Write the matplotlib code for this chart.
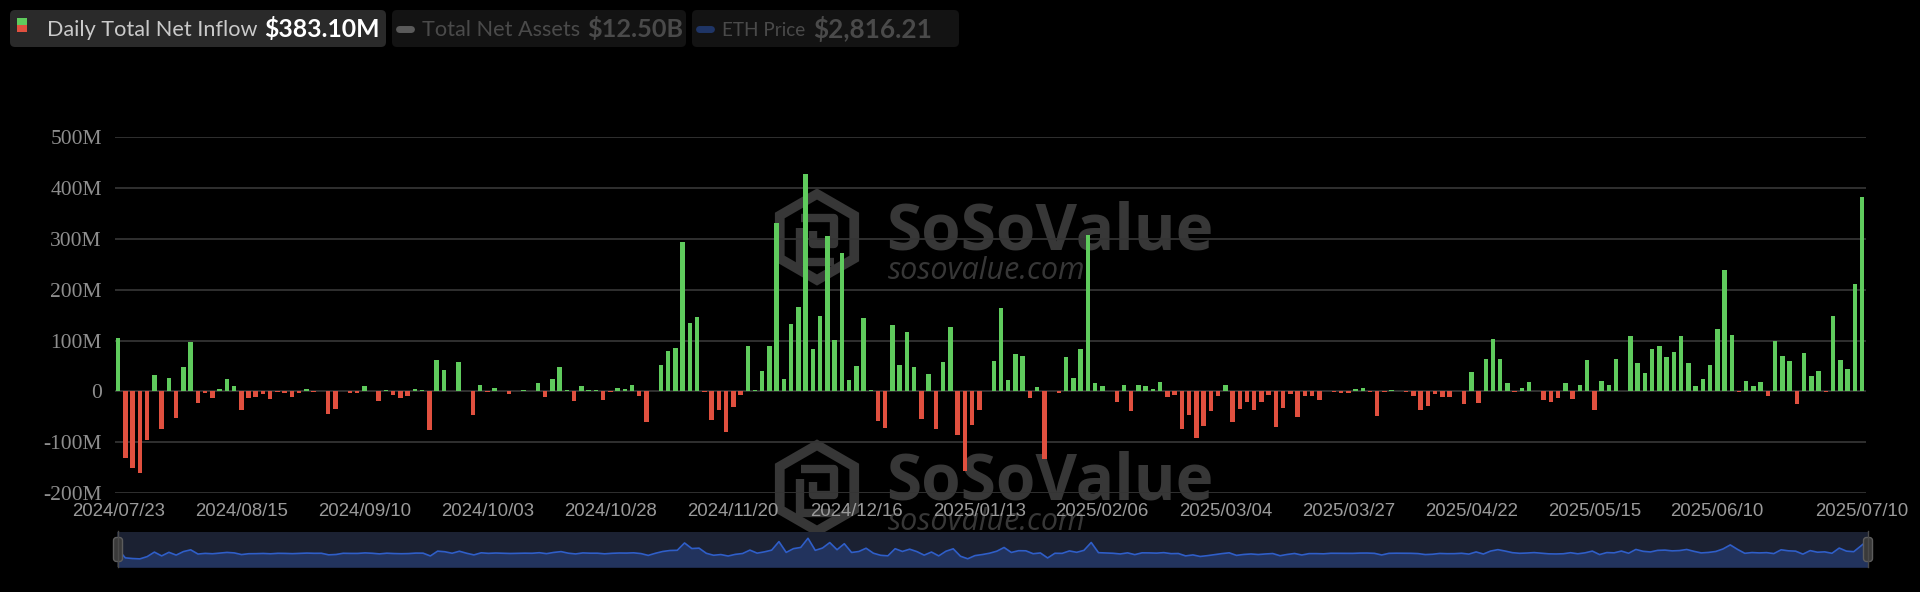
import numpy as np
import pandas as pd
import matplotlib
matplotlib.use("Agg")
import matplotlib.pyplot as plt
from matplotlib.patches import FancyBboxPatch, RegularPolygon, Rectangle
from matplotlib.lines import Line2D

# ---------------- data ----------------
inflow = [
    106, -131, -150, -160, -96, 33, -75, 27, -52, 48,
    98, -22, -3, -14, 5, 24, 10, -37, -13, -11,
    -5, -15, -1, -4, -11, -3, 5, -1, 0, -45,
    -35, 0, -4, -4, 10, 0, -18, 2, -8, -13,
    -9, 5, 3, -77, 61, 43, 0, 58, 0, -47,
    13, -2, 7, 0, -6, 0, 3, 0, 16, -11,
    24, 47, 2, -19, 10, 2, 2, -16, -1, 7,
    5, 12, -9, -61, 0, 51, 79, 85, 294, 135,
    146, -1, -57, -37, -79, -31, -7, 90, 3, 40,
    89, 332, 24, 132, 166, 427, 83, 149, 305, 101,
    272, 23, 50, 144, 2, -58, -73, 130, 52, 116,
    47, -54, 35, -75, 58, 127, -85, -157, -66, -37,
    1, 59, 165, 23, 73, 70, -13, 9, -134, 0,
    -3, 67, 27, 83, 307, 17, 10, 0, -20, 12,
    -39, 12, 10, 4, 18, -11, -7, -75, -47, -91,
    -68, -39, -10, 13, -60, -34, -20, -36, -20, -8,
    -70, -33, -6, -50, -10, -10, -16, 0, -2, -4,
    -3, 5, 6, -2, -49, -2, 2, 0, -1, -9,
    -37, -28, -5, -12, -11, 0, -24, 38, -22, 63,
    103, 63, 17, -1, 7, 19, 0, -16, -20, -14,
    16, -15, 12, 62, -37, 20, 12, 63, 0, 109,
    56, 37, 83, 90, 68, 77, 108, 55, 10, 24,
    51, 123, 238, 110, -1, 20, 10, 18, -9, 99,
    70, 60, -25, 76, 30, 40, -1, 148, 61, 45,
    211, 383.10,
]
market_holidays = ["2024-09-02", "2024-11-28", "2024-12-25", "2025-01-01", "2025-01-09",
                   "2025-01-20", "2025-02-17", "2025-04-18", "2025-05-26", "2025-06-19",
                   "2025-07-04"]
tick_labels = ["2024/07/23", "2024/08/15", "2024/09/10", "2024/10/03", "2024/10/28",
               "2024/11/20", "2024/12/16", "2025/01/13", "2025/02/06", "2025/03/04",
               "2025/03/27", "2025/04/22", "2025/05/15", "2025/06/10", "2025/07/10"]
y_ticks = [-200, -100, 0, 100, 200, 300, 400, 500]
y_tick_labels = ["-200M", "-100M", "0", "100M", "200M", "300M", "400M", "500M"]
legend_names = ["Daily Total Net Inflow", "Total Net Assets", "ETH Price"]
legend_values = ["$383.10M", "$12.50B", "$2,816.21"]

dates = pd.bdate_range("2024-07-23", "2025-07-10", freq="C", holidays=market_holidays)
date_labels = [d.strftime("%Y/%m/%d") for d in dates]
x = np.arange(len(inflow))
tick_pos = [date_labels.index(l) if l in date_labels else None for l in tick_labels]
tick_pos = [p if p is not None else len(inflow) - 1 for p in tick_pos]

GREEN = "#5fcb5d"
RED = "#e0503f"
WM = "#373737"

W, H = 1920, 592
fig = plt.figure(figsize=(W / 100, H / 100), dpi=100, facecolor="black")

# background layer (pixel coordinates, y downward) for watermark & legend
bg = fig.add_axes([0, 0, 1, 1], zorder=0)
bg.set_xlim(0, W)
bg.set_ylim(H, 0)
bg.set_axis_off()
bg.set_facecolor("black")

def watermark(dy):
    hexa = RegularPolygon((817, 237 + dy), numVertices=6, radius=43, orientation=0,
                          fill=False, ec=WM, lw=7)
    bg.add_patch(hexa)
    pts1 = [(801, 218 + dy), (834, 218 + dy), (834, 244 + dy), (813, 244 + dy), (813, 231 + dy)]
    pts2 = [(800, 228 + dy), (800, 262 + dy), (834, 262 + dy)]
    for pts in (pts1, pts2):
        xs, ys = zip(*pts)
        bg.add_line(Line2D(xs, ys, color=WM, lw=6, solid_capstyle="butt"))
    bg.text(886, 249 + dy, "SoSoValue", fontsize=46, fontweight="bold", family="Open Sans",
            color=WM, ha="left", va="baseline")
    bg.text(888, 279 + dy, "sosovalue.com", fontsize=22, style="italic", family="Open Sans",
            color=WM, ha="left", va="baseline")

watermark(0)
watermark(251)

# legend boxes
boxes = [(10, 376, "#2a2a2a"), (392, 294, "#131313"), (692, 267, "#131313")]
for (bx, bw, fc) in boxes:
    bg.add_patch(FancyBboxPatch((bx, 10), bw, 37, boxstyle="round,pad=0,rounding_size=5",
                                fc=fc, ec="none"))
bg.add_patch(Rectangle((17, 18), 10, 7, fc=GREEN, ec="none"))
bg.add_patch(Rectangle((17, 25), 10, 7, fc=RED, ec="none"))
bg.add_line(Line2D([399, 411], [29, 29], color="#5a5a5a", lw=5, solid_capstyle="round"))
bg.add_line(Line2D([699, 711], [29, 29], color="#1f3566", lw=5, solid_capstyle="round"))
name_x = [47, 422, 722]
val_x = [264, 587, 813]
name_size = [15.6, 15.6, 13.6]
val_size = [17.8, 18.2, 18.8]
name_col = ["#cacaca", "#4a4a4a", "#4a4a4a"]
val_col = ["#ffffff", "#4a4a4a", "#4a4a4a"]
for i in range(3):
    bg.text(name_x[i], 30, legend_names[i], fontsize=name_size[i], family="Lato",
            color=name_col[i], ha="left", va="center")
    bg.text(val_x[i], 29, legend_values[i], fontsize=val_size[i], family="Lato",
            fontweight="bold", color=val_col[i], ha="left", va="center")

# main chart
ax = fig.add_axes([115 / W, 99 / H, 1751 / W, 355.7 / H], zorder=1)
ax.set_facecolor("none")
colors = [GREEN if v >= 0 else RED for v in inflow]
ax.bar(x, inflow, width=0.62, color=colors, zorder=3)
ax.set_xlim(-0.45, len(inflow) - 0.45)
ax.set_ylim(-200, 500)
ax.set_yticks(y_ticks)
ax.set_yticklabels(y_tick_labels, family="Liberation Serif", fontsize=15.5, color="#8e8e8e")
ax.set_xticks(tick_pos)
ax.set_xticklabels(tick_labels, family="Liberation Sans", fontsize=13.4, color="#9a9a9a")
ax.tick_params(axis="both", length=0)
ax.tick_params(axis="y", pad=9.5)
ax.tick_params(axis="x", pad=7)
ax.yaxis.grid(True, color="#343434", lw=1.3)
ax.set_axisbelow(True)
for s in ax.spines.values():
    s.set_visible(False)

# data-zoom slider
sl = fig.add_axes([117 / W, (H - 567.3) / H, 1752 / W, 35.6 / H], zorder=2)
sl.set_facecolor("#1b2132")
sl.fill_between(x, inflow, -400, color="#22335d", lw=0)
sl.plot(x, inflow, color="#2f5ec8", lw=1.2)
sl.set_xlim(-0.15, len(inflow) - 0.9)
sl.set_ylim(-400, 615)
sl.set_xticks([])
sl.set_yticks([])
for s in sl.spines.values():
    s.set_visible(False)

# slider handles (overlay layer)
top = fig.add_axes([0, 0, 1, 1], zorder=3)
top.set_xlim(0, W)
top.set_ylim(H, 0)
top.set_axis_off()
top.patch.set_alpha(0)
for hx in (118, 1868):
    top.add_line(Line2D([hx, hx], [531, 567], color="#4a4a4a", lw=1))
    top.add_patch(FancyBboxPatch((hx - 4.5, 537.5), 9, 24, boxstyle="round,pad=0,rounding_size=3",
                                 fc="#3a3a3a", ec="#5c5c5c", lw=1))

fig.savefig("out.png", dpi=100, facecolor="black")
